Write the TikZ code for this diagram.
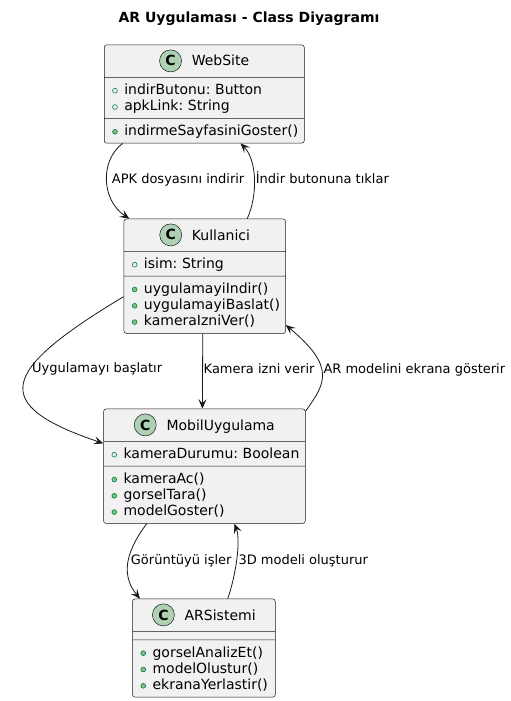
\documentclass[tikz,border=0pt]{standalone}
\usepackage{fontspec}
\setmainfont{DejaVu Sans}
\frenchspacing
\usetikzlibrary{shapes.multipart,arrows.meta}
\definecolor{umlline}{HTML}{181818}
\definecolor{umlfill}{HTML}{F1F1F1}
\definecolor{umlicon}{HTML}{ADD1B2}
\definecolor{visline}{HTML}{038048}
\definecolor{visfill}{HTML}{84BE84}
\tikzset{class box/.style={draw=umlline,line width=0.5pt,fill=umlfill,rounded corners=2.5pt,
    rectangle split,rectangle split parts=3,
    rectangle split empty part height=0pt,rectangle split empty part depth=0pt,
    inner xsep=8pt,inner ysep=4pt,text width=#1,align=left,anchor=north west,
    font=\fontsize{14}{16.3}\selectfont},
  class icon/.style={circle,draw=umlline,line width=0.5pt,fill=umlicon,minimum size=22pt,inner sep=0pt,
    font=\fontsize{14}{14}\selectfont\bfseries},
  uml arrow/.style={draw=umlline,line width=0.8pt,-{Stealth[length=9.5pt,width=8pt,inset=4pt]}},
  edge label/.style={font=\fontsize{13}{15}\selectfont,anchor=base west,inner sep=0pt}}
\newcommand\umlstrut{\rule[-3.3pt]{0pt}{16.3pt}}
\newcommand\classhead[1]{\makebox[\linewidth]{\rule[-7pt]{0pt}{23.8pt}%
  \tikz[baseline={([yshift=-5.1pt]ic.center)}]\node[class icon] (ic) {C};\hspace{10pt}#1}}
\newcommand\attr[1]{\mbox{\umlstrut\tikz[baseline=0pt]\draw[visline,line width=0.6pt] (0pt,3.8pt) circle (2.4pt);\hspace{6.6pt}#1}}
\newcommand\meth[1]{\mbox{\umlstrut\tikz[baseline=0pt]\filldraw[draw=visline,fill=visfill,line width=0.6pt] (0pt,3.8pt) circle (2.4pt);\hspace{6.6pt}#1}}

\begin{document}
\begin{tikzpicture}[x=1pt,y=-1pt]
\useasboundingbox (0,0) rectangle (511,701);
\node[font=\fontsize{14}{16}\selectfont\bfseries,anchor=base] (title) at (249,22.7) {AR Uygulaması - Class Diyagramı};

% classes
\node[class box=184pt] (web) at (104,44.7) {
\nodepart{one}\classhead{WebSite}
\nodepart{two}\attr{indirButonu: Button}\\\attr{apkLink: String}
\nodepart{three}\meth{indirmeSayfasiniGoster()}
};
\node[class box=145.6pt] (kul) at (123.7,218.7) {
\nodepart{one}\classhead{Kullanici}
\nodepart{two}\attr{isim: String}
\nodepart{three}\meth{uygulamayiIndir()}\\\meth{uygulamayiBaslat()}\\\meth{kameraIzniVer()}
};
\node[class box=185.7pt] (mob) at (103.3,408.7) {
\nodepart{one}\classhead{MobilUygulama}
\nodepart{two}\attr{kameraDurumu: Boolean}
\nodepart{three}\meth{kameraAc()}\\\meth{gorselTara()}\\\meth{modelGoster()}
};
\node[class box=126.7pt] (ars) at (132.3,598.7) {
\nodepart{one}\classhead{ARSistemi}
\nodepart{two}
\nodepart{three}\meth{gorselAnalizEt()}\\\meth{modelOlustur()}\\\meth{ekranaYerlastir()}
};

% relations
\draw[uml arrow] ([xshift=18.7pt]web.south west) .. controls (100,160) and (101,200) .. ([xshift=5.6pt]kul.north west);
\node[edge label] (apk) at (111.7,183.8) {APK dosyasını indirir};
\draw[uml arrow] ([xshift=-38.6pt]kul.north east) .. controls (258,195) and (257,160) .. ([xshift=-64pt]web.south east);
\node[edge label] (tikla) at (255.7,183.8) {İndir butonuna tıklar};
\draw[uml arrow] ([yshift=-20.4pt]kul.west) .. controls (-2,372) and (-10,405) .. ([yshift=22.8pt]mob.west);
\node[edge label] (baslat) at (32,372.5) {Uygulamayı başlatır};
\draw[uml arrow] ([xshift=-2pt]kul.south) -- ([xshift=-2pt]mob.north);
\node[edge label] (izin) at (203.5,373.8) {Kamera izni verir};
\draw[uml arrow] ([yshift=-2.5pt]mob.north east) .. controls (326,383) and (335.6,366.7) .. ([yshift=8.7pt]kul.south east);
\node[edge label] (goster) at (323.3,373.8) {AR modelini ekrana gösterir};
\draw[uml arrow] ([xshift=43.4pt]mob.south west) .. controls (130,546) and (118,572) .. ([xshift=7.7pt]ars.north west);
\node[edge label] (isle) at (130.7,564.5) {Görüntüyü işler};
\draw[uml arrow] ([xshift=95.4pt]ars.north west) .. controls (236,575) and (241,540) .. ([xshift=131pt]mob.south west);
\node[edge label] (olustur) at (238.3,564.5) {3D modeli oluşturur};
\end{tikzpicture}
\end{document}
